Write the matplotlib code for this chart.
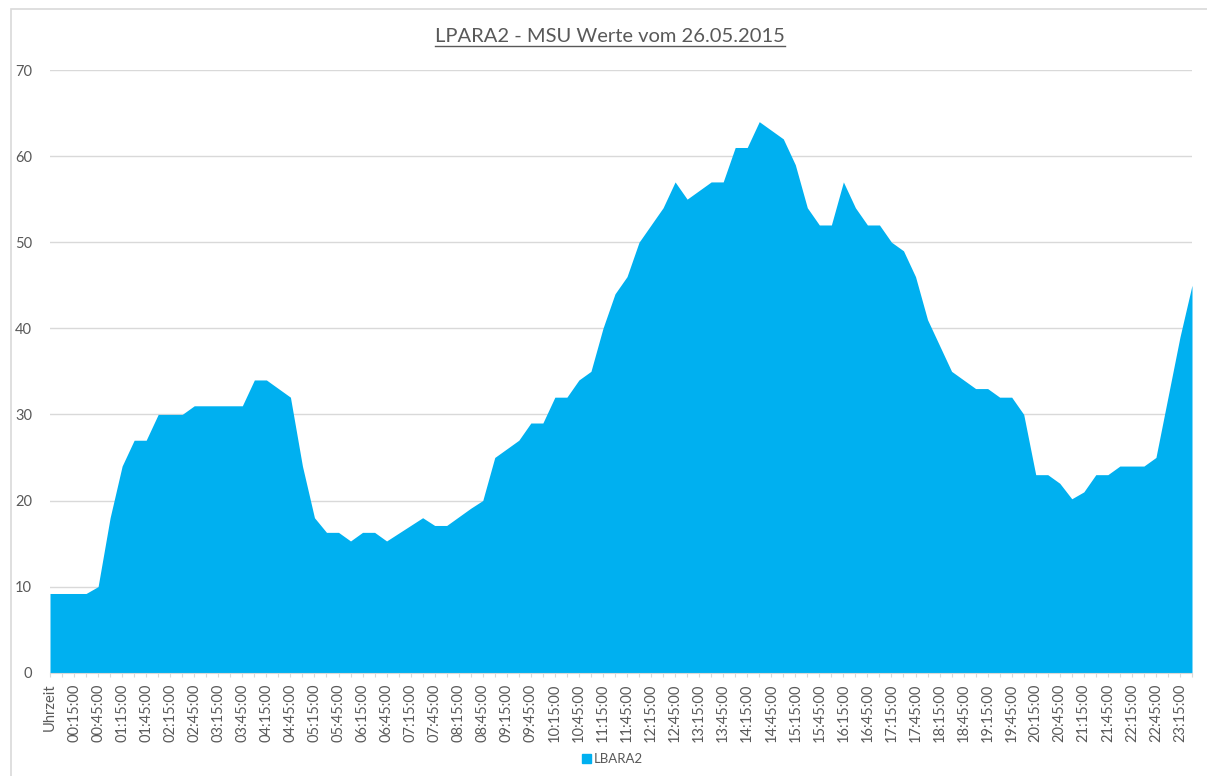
import matplotlib
matplotlib.use("Agg")
import matplotlib.pyplot as plt
from matplotlib.patches import Patch, Rectangle
from matplotlib.lines import Line2D

plt.rcParams['font.family'] = ['Lato', 'DejaVu Sans']

# ---- data ----
title = "LPARA2 - MSU Werte vom 26.05.2015"
series_name = "LBARA2"
categories = ["Uhrzeit"] + [f"{h:02d}:{m:02d}:00" for h in range(24) for m in (0, 15, 30, 45)][:95]
msu_values = [
    9.2, 9.2, 9.2, 9.2, 10, 18, 24, 27, 27, 30, 30, 30, 31, 31, 31, 31, 31,
    34, 34, 33, 32, 24, 18, 16.3, 16.3, 15.3, 16.3, 16.3, 15.3, 16.2, 17.1,
    18, 17.1, 17.1, 18.1, 19.1, 20, 25, 26, 27, 29, 29, 32, 32, 34, 35, 40,
    44, 46, 50, 52, 54, 57, 55, 56, 57, 57, 61, 61, 64, 63, 62, 59, 54, 52,
    52, 57, 54, 52, 52, 50, 49, 46, 41, 38, 35, 34, 33, 33, 32, 32, 30, 23,
    23, 22, 20.2, 21, 23, 23, 24, 24, 24, 25, 32, 39, 45,
]
y_ticks = [0, 10, 20, 30, 40, 50, 60, 70]

# ---- styling ----
W, H = 1207, 776
fill_color = "#00B0F0"
text_color = "#595959"
grid_color = "#D9D9D9"

fig = plt.figure(figsize=(W / 100, H / 100), dpi=100)
fig.patch.set_facecolor("white")

left_px, right_px, y0_px, ytop_px = 50, 1192, 672.7, 70
ax = fig.add_axes([left_px / W, 1 - y0_px / H, (right_px - left_px) / W, (y0_px - ytop_px) / H])

xs = list(range(len(msu_values)))
ax.fill_between(xs, msu_values, 0, color=fill_color, lw=0, zorder=2)

ax.set_xlim(0, len(msu_values) - 1)
ax.set_ylim(y_ticks[0], y_ticks[-1])
ax.set_yticks(y_ticks)
ax.set_yticklabels([str(t) for t in y_ticks])
ax.yaxis.grid(True, color=grid_color, lw=1)
ax.set_axisbelow(True)

ax.set_xticks(xs)
ax.set_xticklabels([c if i % 2 == 0 else "" for i, c in enumerate(categories)],
                   rotation=90, ha="center", va="top")
ax.tick_params(axis="x", length=3, color=grid_color, labelsize=10.5, labelcolor=text_color, pad=5)
ax.tick_params(axis="y", length=0, labelsize=10.5, labelcolor=text_color, pad=13)

for s in ("left", "right", "top"):
    ax.spines[s].set_visible(False)
ax.spines["bottom"].set_color(grid_color)

# chart border
fig.add_artist(Rectangle((10.5 / W, -0.1), 1.2, (H - 9.3) / H + 0.1, transform=fig.transFigure,
                         fill=False, ec=grid_color, lw=1.2))

# title with underline
t = fig.text(610 / W, 1 - 36 / H, title, ha="center", va="center", fontsize=14.5, color=text_color)

# legend
handles = [Patch(facecolor=fill_color, edgecolor=fill_color, label=series_name)]
fig.legend(handles=handles, loc="center", bbox_to_anchor=(612 / W, 1 - 759 / H), frameon=False,
           fontsize=9.5, labelcolor=text_color, handlelength=0.7, handleheight=0.7, handletextpad=0.2)

fig.canvas.draw()
bb = t.get_window_extent(renderer=fig.canvas.get_renderer())
uy = (bb.y0 + 0.5) / H
fig.add_artist(Line2D([bb.x0 / W, bb.x1 / W], [uy - 2 / H, uy - 2 / H], transform=fig.transFigure,
                      color=text_color, lw=1))

fig.savefig("out.png", dpi=100, facecolor="white")
